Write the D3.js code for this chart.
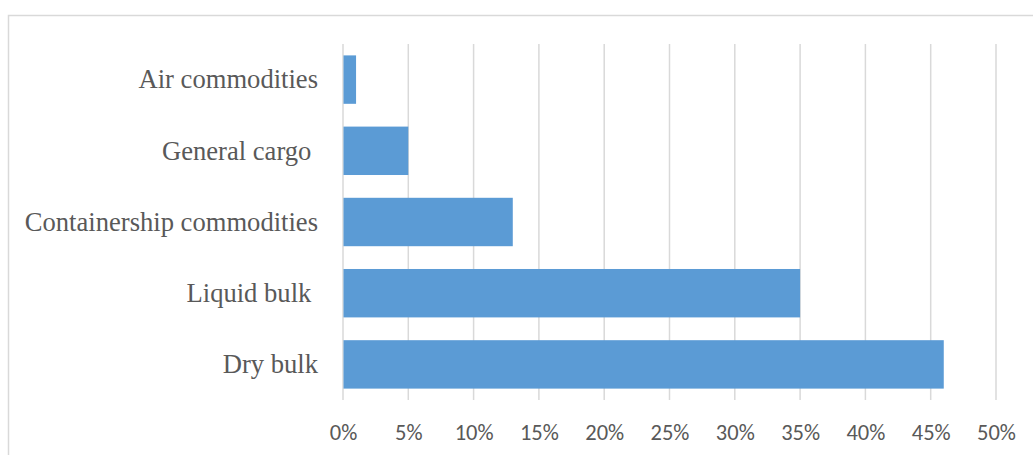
<!DOCTYPE html>
<html>
<head>
<meta charset="utf-8">
<script src="https://cdn.jsdelivr.net/npm/d3@7"></script>
<style>
  html, body { margin: 0; padding: 0; background: #fff; }
  svg { display: block; }
</style>
</head>
<body>
<svg id="chart" width="1033" height="455"></svg>
<script>
// Share of cargo by commodity type
const categories = ["Air commodities", "General cargo ", "Containership commodities", "Liquid bulk ", "Dry bulk"];
const shares = [1, 5, 13, 35, 46];
const tickValues = [0, 5, 10, 15, 20, 25, 30, 35, 40, 45, 50];

const svg = d3.select("#chart");
const W = 1033, H = 455;
const plot = { left: 343, right: 996, top: 44, bottom: 400 };

// chart frame
svg.append("rect")
  .attr("x", 8.5).attr("y", 15.5)
  .attr("width", W + 10).attr("height", H + 10)
  .attr("fill", "#fff").attr("stroke", "#d9d9d9").attr("stroke-width", 1.5);

const x = d3.scaleLinear().domain([0, 50]).range([plot.left, plot.right]);
const y = d3.scaleBand().domain(categories).range([plot.top, plot.bottom]).paddingInner(0.32).paddingOuter(0.16);

// vertical gridlines
svg.append("g")
  .selectAll("line")
  .data(tickValues)
  .join("line")
  .attr("x1", d => x(d)).attr("x2", d => x(d))
  .attr("y1", plot.top).attr("y2", plot.bottom)
  .attr("stroke", "#d9d9d9").attr("stroke-width", 1.5);

// bars
svg.append("g")
  .selectAll("rect")
  .data(categories)
  .join("rect")
  .attr("x", x(0) + 0.5)
  .attr("y", d => y(d))
  .attr("width", (d, i) => x(shares[i]) - x(0) - 0.5)
  .attr("height", y.bandwidth())
  .attr("fill", "#5b9bd5");

// x axis tick labels
const xAxis = d3.axisBottom(x).tickValues(tickValues).tickSize(0).tickPadding(0).tickFormat(d => d + "%");
const gx = svg.append("g").attr("transform", `translate(0,${plot.bottom})`).call(xAxis);
gx.select(".domain").remove();
gx.selectAll("text")
  .attr("y", 40)
  .attr("dy", 0)
  .attr("fill", "#595959")
  .style("font-family", "Carlito, Calibri, 'Liberation Sans', sans-serif")
  .style("font-size", "22.5px");

// category labels
const yAxis = d3.axisLeft(y).tickSize(0).tickPadding(25);
const gy = svg.append("g").attr("transform", `translate(${plot.left},0)`).call(yAxis);
gy.select(".domain").remove();
gy.selectAll("text")
  .attr("dy", "0.33em")
  .attr("fill", "#595959")
  .style("white-space", "pre")
  .style("font-family", "'Times New Roman', 'Liberation Serif', serif")
  .style("font-size", "26.6px");
</script>
</body>
</html>
